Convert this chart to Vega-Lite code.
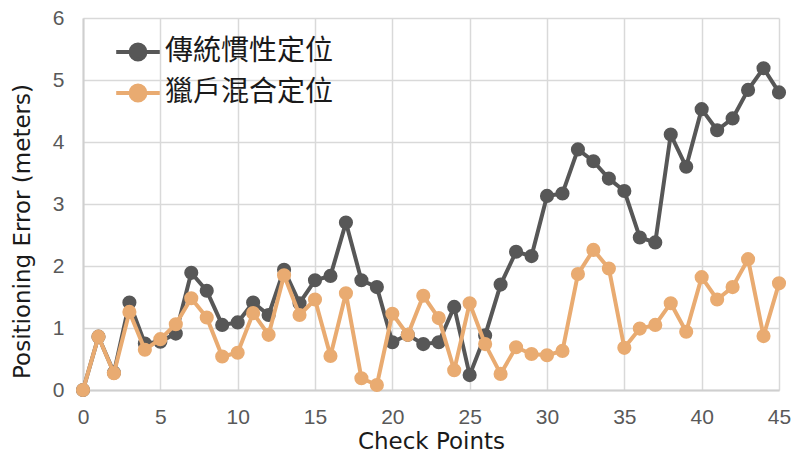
{
  "$schema": "https://vega.github.io/schema/vega-lite/v6.json",
  "autosize": {"type": "none"},
  "width": 696,
  "height": 372,
  "padding": {"left": 83, "top": 18, "right": 15, "bottom": 64},
  "background": "white",
  "config": {"view": {"stroke": null}},
  "datasets": {
    "pts": [
      {"p": 0, "s": "傳統慣性定位", "e": 0},
      {"p": 1, "s": "傳統慣性定位", "e": 0.86},
      {"p": 2, "s": "傳統慣性定位", "e": 0.28},
      {"p": 3, "s": "傳統慣性定位", "e": 1.41},
      {"p": 4, "s": "傳統慣性定位", "e": 0.75},
      {"p": 5, "s": "傳統慣性定位", "e": 0.78},
      {"p": 6, "s": "傳統慣性定位", "e": 0.91},
      {"p": 7, "s": "傳統慣性定位", "e": 1.89},
      {"p": 8, "s": "傳統慣性定位", "e": 1.6},
      {"p": 9, "s": "傳統慣性定位", "e": 1.05},
      {"p": 10, "s": "傳統慣性定位", "e": 1.09},
      {"p": 11, "s": "傳統慣性定位", "e": 1.41},
      {"p": 12, "s": "傳統慣性定位", "e": 1.21},
      {"p": 13, "s": "傳統慣性定位", "e": 1.94},
      {"p": 14, "s": "傳統慣性定位", "e": 1.4},
      {"p": 15, "s": "傳統慣性定位", "e": 1.77},
      {"p": 16, "s": "傳統慣性定位", "e": 1.84},
      {"p": 17, "s": "傳統慣性定位", "e": 2.7},
      {"p": 18, "s": "傳統慣性定位", "e": 1.77},
      {"p": 19, "s": "傳統慣性定位", "e": 1.66},
      {"p": 20, "s": "傳統慣性定位", "e": 0.77},
      {"p": 21, "s": "傳統慣性定位", "e": 0.89},
      {"p": 22, "s": "傳統慣性定位", "e": 0.74},
      {"p": 23, "s": "傳統慣性定位", "e": 0.77},
      {"p": 24, "s": "傳統慣性定位", "e": 1.34},
      {"p": 25, "s": "傳統慣性定位", "e": 0.24},
      {"p": 26, "s": "傳統慣性定位", "e": 0.88},
      {"p": 27, "s": "傳統慣性定位", "e": 1.7},
      {"p": 28, "s": "傳統慣性定位", "e": 2.23},
      {"p": 29, "s": "傳統慣性定位", "e": 2.16},
      {"p": 30, "s": "傳統慣性定位", "e": 3.13},
      {"p": 31, "s": "傳統慣性定位", "e": 3.17},
      {"p": 32, "s": "傳統慣性定位", "e": 3.88},
      {"p": 33, "s": "傳統慣性定位", "e": 3.69},
      {"p": 34, "s": "傳統慣性定位", "e": 3.41},
      {"p": 35, "s": "傳統慣性定位", "e": 3.21},
      {"p": 36, "s": "傳統慣性定位", "e": 2.46},
      {"p": 37, "s": "傳統慣性定位", "e": 2.38},
      {"p": 38, "s": "傳統慣性定位", "e": 4.12},
      {"p": 39, "s": "傳統慣性定位", "e": 3.6},
      {"p": 40, "s": "傳統慣性定位", "e": 4.53},
      {"p": 41, "s": "傳統慣性定位", "e": 4.19},
      {"p": 42, "s": "傳統慣性定位", "e": 4.38},
      {"p": 43, "s": "傳統慣性定位", "e": 4.84},
      {"p": 44, "s": "傳統慣性定位", "e": 5.19},
      {"p": 45, "s": "傳統慣性定位", "e": 4.8},
      {"p": 0, "s": "獵戶混合定位", "e": 0},
      {"p": 1, "s": "獵戶混合定位", "e": 0.86},
      {"p": 2, "s": "獵戶混合定位", "e": 0.27},
      {"p": 3, "s": "獵戶混合定位", "e": 1.26},
      {"p": 4, "s": "獵戶混合定位", "e": 0.65},
      {"p": 5, "s": "獵戶混合定位", "e": 0.82},
      {"p": 6, "s": "獵戶混合定位", "e": 1.06},
      {"p": 7, "s": "獵戶混合定位", "e": 1.48},
      {"p": 8, "s": "獵戶混合定位", "e": 1.17},
      {"p": 9, "s": "獵戶混合定位", "e": 0.54},
      {"p": 10, "s": "獵戶混合定位", "e": 0.6},
      {"p": 11, "s": "獵戶混合定位", "e": 1.24},
      {"p": 12, "s": "獵戶混合定位", "e": 0.89},
      {"p": 13, "s": "獵戶混合定位", "e": 1.85},
      {"p": 14, "s": "獵戶混合定位", "e": 1.21},
      {"p": 15, "s": "獵戶混合定位", "e": 1.46},
      {"p": 16, "s": "獵戶混合定位", "e": 0.55},
      {"p": 17, "s": "獵戶混合定位", "e": 1.56},
      {"p": 18, "s": "獵戶混合定位", "e": 0.19},
      {"p": 19, "s": "獵戶混合定位", "e": 0.08},
      {"p": 20, "s": "獵戶混合定位", "e": 1.23},
      {"p": 21, "s": "獵戶混合定位", "e": 0.89},
      {"p": 22, "s": "獵戶混合定位", "e": 1.52},
      {"p": 23, "s": "獵戶混合定位", "e": 1.16},
      {"p": 24, "s": "獵戶混合定位", "e": 0.32},
      {"p": 25, "s": "獵戶混合定位", "e": 1.4},
      {"p": 26, "s": "獵戶混合定位", "e": 0.74},
      {"p": 27, "s": "獵戶混合定位", "e": 0.26},
      {"p": 28, "s": "獵戶混合定位", "e": 0.69},
      {"p": 29, "s": "獵戶混合定位", "e": 0.58},
      {"p": 30, "s": "獵戶混合定位", "e": 0.56},
      {"p": 31, "s": "獵戶混合定位", "e": 0.63},
      {"p": 32, "s": "獵戶混合定位", "e": 1.87},
      {"p": 33, "s": "獵戶混合定位", "e": 2.26},
      {"p": 34, "s": "獵戶混合定位", "e": 1.96},
      {"p": 35, "s": "獵戶混合定位", "e": 0.68},
      {"p": 36, "s": "獵戶混合定位", "e": 0.99},
      {"p": 37, "s": "獵戶混合定位", "e": 1.05},
      {"p": 38, "s": "獵戶混合定位", "e": 1.4},
      {"p": 39, "s": "獵戶混合定位", "e": 0.94},
      {"p": 40, "s": "獵戶混合定位", "e": 1.82},
      {"p": 41, "s": "獵戶混合定位", "e": 1.46},
      {"p": 42, "s": "獵戶混合定位", "e": 1.66},
      {"p": 43, "s": "獵戶混合定位", "e": 2.11},
      {"p": 44, "s": "獵戶混合定位", "e": 0.87},
      {"p": 45, "s": "獵戶混合定位", "e": 1.72}
    ]
  },
  "data": {"name": "pts"},
  "encoding": {
    "x": {
      "field": "p",
      "type": "quantitative",
      "scale": {"domain": [0, 45], "nice": false, "zero": false},
      "axis": {
        "title": "Check Points",
        "values": [0, 5, 10, 15, 20, 25, 30, 35, 40, 45],
        "grid": true,
        "gridColor": "#d9d9d9",
        "gridWidth": 1.5,
        "domainColor": "#cfcfcf",
        "domainWidth": 2,
        "ticks": false,
        "labelFont": "Liberation Sans",
        "labelFontSize": 21,
        "labelColor": "#595959",
        "labelPadding": 16,
        "labelFlush": false,
        "titleFont": "DejaVu Sans",
        "titleFontSize": 23,
        "titleFontWeight": "normal",
        "titleColor": "#1a1a1a",
        "titlePadding": 3
      }
    },
    "y": {
      "field": "e",
      "type": "quantitative",
      "scale": {"domain": [0, 6], "nice": false},
      "axis": {
        "title": "Positioning Error (meters)",
        "values": [0, 1, 2, 3, 4, 5, 6],
        "grid": true,
        "gridColor": "#d9d9d9",
        "gridWidth": 1.5,
        "domainColor": "#cfcfcf",
        "domainWidth": 2,
        "ticks": false,
        "labelFont": "Liberation Sans",
        "labelFontSize": 21,
        "labelColor": "#595959",
        "labelPadding": 19,
        "labelFlush": false,
        "titleFont": "DejaVu Sans",
        "titleFontSize": 23,
        "titleFontWeight": "normal",
        "titleColor": "#1a1a1a",
        "titlePadding": 18,
        "titleY": 213
      }
    },
    "color": {
      "field": "s",
      "type": "nominal",
      "scale": {"domain": ["傳統慣性定位", "獵戶混合定位"], "range": ["#575757", "#E9AB71"]},
      "legend": {
        "title": null,
        "orient": "none",
        "legendX": 31,
        "legendY": 10,
        "direction": "vertical",
        "padding": 0,
        "symbolType": "M-1,0H1M0.34,0A0.34,0.34,0,1,1,-0.34,0A0.34,0.34,0,1,1,0.34,0Z",
        "symbolSize": 1900,
        "symbolStrokeWidth": 4,
        "symbolOpacity": 1,
        "labelFont": "Noto Sans CJK TC",
        "labelFontSize": 28,
        "labelColor": "#1a1a1a",
        "labelOffset": 3,
        "rowPadding": 1,
        "labelLimit": 400,
        "encode": {
          "symbols": {
            "update": {
              "fill": {"scale": "color", "field": "value"},
              "stroke": {"scale": "color", "field": "value"},
              "strokeWidth": {"value": 4}
            }
          }
        }
      }
    }
  },
  "layer": [
    {
      "transform": [{"filter": "datum.s === '傳統慣性定位'"}],
      "mark": {"type": "line", "strokeWidth": 4, "strokeJoin": "round"}
    },
    {
      "transform": [{"filter": "datum.s === '傳統慣性定位'"}],
      "mark": {"type": "point", "shape": "circle", "filled": true, "size": 200, "opacity": 1}
    },
    {
      "transform": [{"filter": "datum.s === '獵戶混合定位'"}],
      "mark": {"type": "line", "strokeWidth": 4, "strokeJoin": "round"}
    },
    {
      "transform": [{"filter": "datum.s === '獵戶混合定位'"}],
      "mark": {"type": "point", "shape": "circle", "filled": true, "size": 200, "opacity": 1}
    }
  ]
}
